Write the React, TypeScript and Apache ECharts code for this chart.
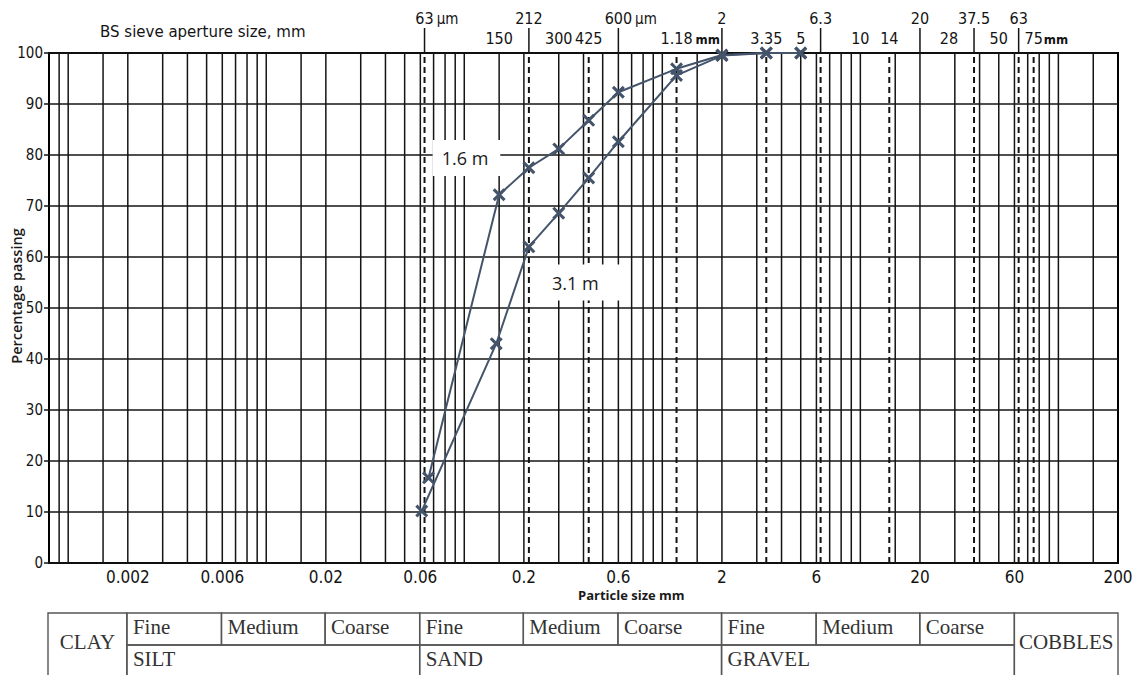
import React, { useEffect, useRef } from "react";
import * as echarts from "echarts";

// ---------- axis range ----------
const X_MIN = 0.0008;
const X_MAX = 200;

// ---------- graph-paper grid lines (mm) ----------
const gridLineSizes = [
  0.0009, 0.001, 0.0015, 0.002, 0.003, 0.004, 0.005, 0.006, 0.007, 0.008, 0.009,
  0.01, 0.015, 0.02, 0.03, 0.04, 0.05, 0.06, 0.07, 0.08, 0.09,
  0.1, 0.15, 0.2, 0.3, 0.4, 0.5, 0.6, 0.7, 0.8, 0.9,
  1, 1.5, 2, 3, 4, 5, 6, 7, 8, 9,
  10, 15, 20, 30, 40, 50, 60, 70, 80, 90,
  100, 150,
];
// BS sieve sizes drawn dashed
const sieveDashedSizes = [0.063, 0.212, 0.425, 1.18, 3.35, 6.3, 14, 37.5, 63, 75];

// ---------- top sieve labels ----------
const topUpperSizes = [0.063, 0.212, 0.6, 2, 6.3, 20, 37.5, 63];
const topUpperLabels = ["63", "212", "600", "2", "6.3", "20", "37.5", "63"];
const topUpperUnits = ["µm", "", "µm", "", "", "", "", ""];
const topLowerSizes = [0.15, 0.3, 0.425, 1.18, 3.35, 5, 10, 14, 28, 50, 75];
const topLowerLabels = ["150", "300", "425", "1.18", "3.35", "5", "10", "14", "28", "50", "75"];
const topLowerUnits = ["", "", "", "mm", "", "", "", "", "", "", "mm"];

// ---------- bottom axis labels ----------
const bottomTickSizes = [0.002, 0.006, 0.02, 0.06, 0.2, 0.6, 2, 6, 20, 60, 200];
const bottomTickLabels = ["0.002", "0.006", "0.02", "0.06", "0.2", "0.6", "2", "6", "20", "60", "200"];

// ---------- y axis ----------
const yMin = 0;
const yMax = 100;
const yStep = 10;

// ---------- grading curves ----------
const sizes16 = [0.066, 0.15, 0.212, 0.3, 0.425, 0.6, 1.18, 2, 3.35, 5];
const passing16 = [16.7, 72.2, 77.5, 81.2, 86.8, 92.3, 96.9, 99.6, 100, 100];
const sizes31 = [0.061, 0.145, 0.212, 0.3, 0.425, 0.6, 1.18, 2, 3.35, 5];
const passing31 = [10.2, 43, 62, 68.6, 75.5, 82.6, 95.6, 99.5, 100, 100];

// ---------- curve labels ----------
const curveLabelTexts = ["1.6 m", "3.1 m"];
const curveLabelSizes = [0.1026, 0.413];
const curveLabelPassing = [79.4, 55.0];

// ---------- classification table ----------
const classBounds = [0.0008, 0.002, 0.006, 0.02, 0.06, 0.2, 0.6, 2, 6, 20, 60, 200];
const subNames = ["Fine", "Medium", "Coarse"];
const mainNames = ["SILT", "SAND", "GRAVEL"];
const leftName = "CLAY";
const rightName = "COBBLES";

const NARROW = "'Liberation Sans Narrow', 'DejaVu Sans Condensed', 'Arial Narrow', sans-serif";
const SERIF = "'Liberation Serif', 'DejaVu Serif', serif";
const SANS = "'Open Sans', 'Noto Sans', sans-serif";
const LINE_COLOR = "#44546A";
const INK = "#141414";

let measureCtx: CanvasRenderingContext2D | null = null;
function measure(text: string, font: string): number {
  if (!measureCtx) measureCtx = document.createElement("canvas").getContext("2d");
  if (!measureCtx) return text.length * 7;
  measureCtx.font = font;
  return measureCtx.measureText(text).width;
}

const XMARK = "path://M2,0 L6,4 L10,0 L12,2 L8,6 L12,10 L10,12 L6,8 L2,12 L0,10 L4,6 L0,2 Z";

function verticalLineSeries(values: number[], dashed: boolean) {
  return {
    type: "custom",
    xAxisIndex: 0,
    yAxisIndex: 0,
    z: 1,
    silent: true,
    clip: false,
    data: values.map((v) => [v, yMin]),
    encode: { x: 0, y: 1 },
    renderItem: (params: any, api: any) => {
      const v = api.value(0);
      const p0 = api.coord([v, yMin]);
      const p1 = api.coord([v, yMax]);
      return {
        type: "line",
        shape: { x1: p0[0], y1: p0[1], x2: p1[0], y2: p1[1] },
        style: dashed
          ? { stroke: INK, lineWidth: 2, lineDash: [6, 4] }
          : { stroke: INK, lineWidth: 1.5 },
      };
    },
  };
}

function topLabelSeries(sizes: number[], labels: string[], units: string[], upper: boolean) {
  const fontSize = 16;
  return {
    type: "custom",
    xAxisIndex: 0,
    yAxisIndex: 0,
    z: 2,
    silent: true,
    clip: false,
    data: sizes.map((v) => [v, yMax]),
    encode: { x: 0, y: 1 },
    renderItem: (params: any, api: any) => {
      const i = params.dataIndex;
      const p = api.coord([api.value(0), yMax]);
      const yText = upper ? p[1] - 35 : p[1] - 15;
      const children: any[] = [];
      if (upper) {
        children.push({
          type: "line",
          shape: { x1: p[0], y1: p[1] - 25, x2: p[0], y2: p[1] },
          style: { stroke: INK, lineWidth: 1.5 },
        });
      }
      children.push({
        type: "text",
        style: {
          text: labels[i],
          x: p[0],
          y: yText,
          align: "center",
          verticalAlign: "middle",
          textAlign: "center",
          textVerticalAlign: "middle",
          fontSize,
          fontFamily: NARROW,
          fill: INK,
        },
      });
      if (units[i]) {
        const w = measure(labels[i], `${fontSize}px ${NARROW}`);
        children.push({
          type: "text",
          style: {
            text: units[i],
            x: p[0] + w / 2 + (labels[i] === "75" ? 1 : 3),
            y: yText + 1,
            align: "left",
            verticalAlign: "middle",
            textAlign: "left",
            textVerticalAlign: "middle",
            fontSize: units[i] === "mm" ? 13 : 15,
            fontFamily: NARROW,
            fontWeight: units[i] === "mm" ? "bold" : "normal",
            fill: INK,
          },
        });
      }
      return { type: "group", children };
    },
  };
}

function bottomLabelSeries() {
  return {
    type: "custom",
    xAxisIndex: 0,
    yAxisIndex: 0,
    z: 2,
    silent: true,
    clip: false,
    data: bottomTickSizes.map((v) => [v, yMin]),
    encode: { x: 0, y: 1 },
    renderItem: (params: any, api: any) => {
      const i = params.dataIndex;
      const p = api.coord([api.value(0), yMin]);
      return {
        type: "text",
        style: {
          text: bottomTickLabels[i],
          x: p[0],
          y: p[1] + 14,
          align: "center",
          verticalAlign: "middle",
          textAlign: "center",
          textVerticalAlign: "middle",
          fontSize: 17,
          fontFamily: NARROW,
          fill: INK,
        },
      };
    },
  };
}

type Cell = { x0: number; x1: number; r0: number; r1: number; text: string; center: boolean };

function buildCells(): Cell[] {
  const cells: Cell[] = [];
  cells.push({ x0: classBounds[0], x1: classBounds[1], r0: 0, r1: 2, text: leftName, center: true });
  for (let g = 0; g < mainNames.length; g++) {
    for (let s = 0; s < subNames.length; s++) {
      const k = 1 + g * 3 + s;
      cells.push({ x0: classBounds[k], x1: classBounds[k + 1], r0: 0, r1: 1, text: subNames[s], center: false });
    }
    cells.push({
      x0: classBounds[1 + g * 3],
      x1: classBounds[1 + g * 3 + 3],
      r0: 1,
      r1: 2,
      text: mainNames[g],
      center: false,
    });
  }
  const n = classBounds.length;
  cells.push({ x0: classBounds[n - 2], x1: classBounds[n - 1], r0: 0, r1: 2, text: rightName, center: true });
  return cells;
}

function tableSeries() {
  const cells = buildCells();
  return {
    type: "custom",
    xAxisIndex: 1,
    yAxisIndex: 1,
    z: 2,
    silent: true,
    clip: false,
    data: cells.map((c) => [c.x0, c.x1, c.r0, c.r1]),
    encode: { x: [0, 1], y: [2, 3] },
    renderItem: (params: any, api: any) => {
      const c = cells[params.dataIndex];
      const a = api.coord([api.value(0), api.value(2)]);
      const b = api.coord([api.value(1), api.value(3)]);
      const x = Math.min(a[0], b[0]);
      const y = Math.min(a[1], b[1]);
      const w = Math.abs(b[0] - a[0]);
      const h = Math.abs(b[1] - a[1]);
      return {
        type: "group",
        children: [
          {
            type: "rect",
            shape: { x, y, width: w, height: h },
            style: { fill: "none", stroke: "#555", lineWidth: 1.4 },
          },
          {
            type: "text",
            style: {
              text: c.text,
              x: c.center ? x + w / 2 : x + 6,
              y: c.center ? y + h / 2 - 3 : y + h / 2 - 2,
              align: c.center ? "center" : "left",
              verticalAlign: "middle",
              textAlign: c.center ? "center" : "left",
              textVerticalAlign: "middle",
              fontSize: 21,
              fontFamily: SERIF,
              fill: "#333",
            },
          },
        ],
      };
    },
  };
}

function curveSeries(name: string, sizes: number[], passing: number[]) {
  return {
    name,
    type: "line",
    xAxisIndex: 0,
    yAxisIndex: 0,
    z: 5,
    data: sizes.map((s, i) => [s, passing[i]]),
    symbol: XMARK,
    symbolSize: 13,
    showAllSymbol: true,
    lineStyle: { color: LINE_COLOR, width: 2 },
    itemStyle: { color: LINE_COLOR },
    emphasis: { disabled: true },
  };
}

function curveLabelSeries() {
  const paddings = [
    [9, 12, 9, 9],
    [9, 28, 9, 6],
  ];
  return {
    type: "scatter",
    xAxisIndex: 0,
    yAxisIndex: 0,
    z: 4,
    silent: true,
    symbolSize: 1,
    itemStyle: { color: "#ffffff", opacity: 1 },
    data: curveLabelTexts.map((t, i) => ({
      value: [curveLabelSizes[i], curveLabelPassing[i]],
      label: {
        show: true,
        position: "inside",
        formatter: t,
        backgroundColor: "#ffffff",
        padding: paddings[i],
        fontSize: 18,
        fontFamily: SANS,
        color: "#1a1a1a",
        opacity: 1,
      },
    })),
  };
}

export default function App() {
  const ref = useRef<HTMLDivElement>(null);

  useEffect(() => {
    document.body.style.margin = "0";
    if (!ref.current) return;
    const chart = echarts.init(ref.current, undefined, { renderer: "svg" });

    const option: any = {
      animation: false,
      backgroundColor: "#ffffff",
      grid: [
        {
          left: 49,
          top: 53,
          width: 1069,
          height: 510,
          show: true,
          borderColor: "#000",
          borderWidth: 2,
          backgroundColor: "transparent",
          containLabel: false,
          outerBoundsMode: "none",
        },
        {
          left: 48,
          top: 613,
          width: 1070,
          height: 64,
          show: false,
          containLabel: false,
          outerBoundsMode: "none",
        },
      ],
      xAxis: [
        { type: "log", gridIndex: 0, min: X_MIN, max: X_MAX, logBase: 10, show: false },
        { type: "log", gridIndex: 1, min: X_MIN, max: X_MAX, logBase: 10, show: false },
      ],
      yAxis: [
        {
          type: "value",
          gridIndex: 0,
          min: yMin,
          max: yMax,
          interval: yStep,
          axisLine: { show: false },
          axisTick: { show: true, length: 5, lineStyle: { color: INK, width: 1.5 } },
          axisLabel: { fontFamily: NARROW, fontSize: 15, color: INK, margin: 6 },
          splitLine: { show: true, lineStyle: { color: INK, width: 1.6 } },
        },
        { type: "value", gridIndex: 1, min: 0, max: 2, inverse: true, show: false },
      ],
      graphic: [
        {
          type: "text",
          left: 100,
          top: 24,
          style: {
            text: "BS sieve aperture size, mm",
            fontFamily: "'DejaVu Sans', sans-serif",
            fontSize: 15,
            fill: INK,
          },
        },
        {
          type: "text",
          left: 578,
          top: 588,
          style: {
            text: "Particle size mm",
            fontFamily: SANS,
            fontSize: 13,
            fontWeight: "bold",
            fill: "#1a1a1a",
          },
        },
        {
          type: "text",
          x: 16,
          y: 296,
          rotation: Math.PI / 2,
          style: {
            text: "Percentage passing",
            x: 0,
            y: 0,
            align: "center",
            verticalAlign: "middle",
            textAlign: "center",
            textVerticalAlign: "middle",
            fontFamily: SANS,
            fontSize: 14.5,
            fontWeight: 600,
            fill: "#1a1a1a",
          },
        },
      ],
      series: [
        verticalLineSeries(gridLineSizes, false),
        verticalLineSeries(sieveDashedSizes, true),
        topLabelSeries(topUpperSizes, topUpperLabels, topUpperUnits, true),
        topLabelSeries(topLowerSizes, topLowerLabels, topLowerUnits, false),
        bottomLabelSeries(),
        tableSeries(),
        curveLabelSeries(),
        curveSeries("1.6 m", sizes16, passing16),
        curveSeries("3.1 m", sizes31, passing31),
      ],
    };

    chart.setOption(option);
    return () => {
      chart.dispose();
    };
  }, []);

  return <div ref={ref} style={{ width: 1132, height: 675 }} />;
}
